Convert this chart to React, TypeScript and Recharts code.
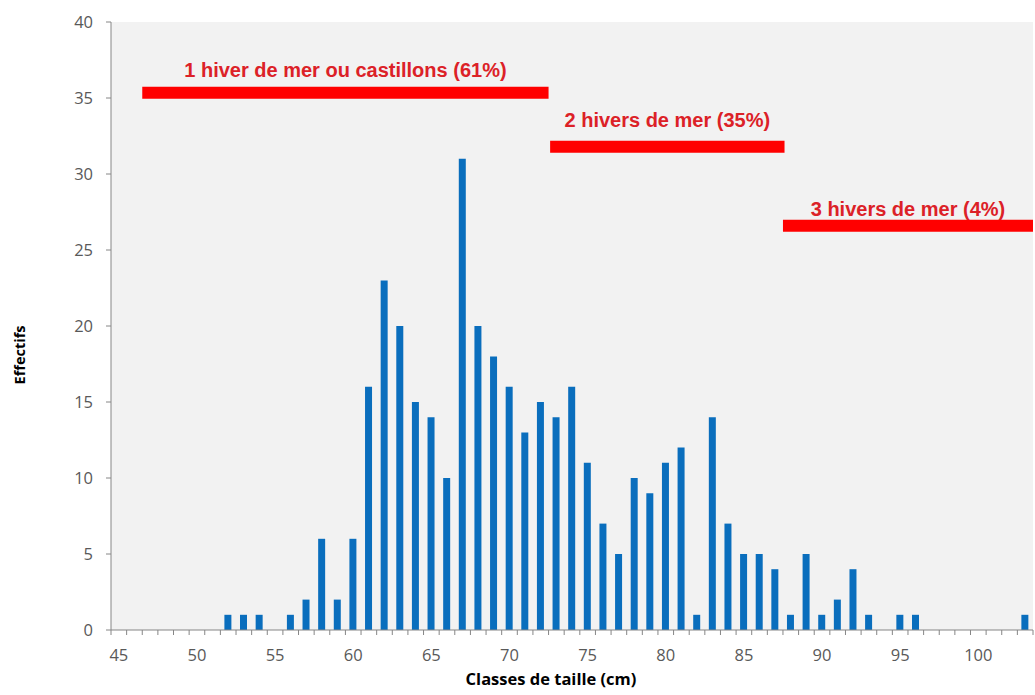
import { ComposedChart, Bar, XAxis, YAxis, CartesianGrid, ReferenceLine } from "recharts"

const classes = [
  45, 46, 47, 48, 49, 50, 51, 52, 53, 54, 55, 56, 57, 58, 59, 60, 61, 62, 63, 64,
  65, 66, 67, 68, 69, 70, 71, 72, 73, 74, 75, 76, 77, 78, 79, 80, 81, 82, 83, 84,
  85, 86, 87, 88, 89, 90, 91, 92, 93, 94, 95, 96, 97, 98, 99, 100, 101, 102, 103,
]
const effectifs = [
  0, 0, 0, 0, 0, 0, 0, 1, 1, 1, 0, 1, 2, 6, 2, 6, 16, 23, 20, 15,
  14, 10, 31, 20, 18, 16, 13, 15, 14, 16, 11, 7, 5, 10, 9, 11, 12, 1, 14, 7,
  5, 5, 4, 1, 5, 1, 2, 4, 1, 0, 1, 1, 0, 0, 0, 0, 0, 0, 1,
]
const xLabels = [45, 50, 55, 60, 65, 70, 75, 80, 85, 90, 95, 100]
const yTicks = [0, 5, 10, 15, 20, 25, 30, 35, 40]

const groupNames = ["1 hiver de mer ou castillons (61%)", "2 hivers de mer (35%)", "3 hivers de mer (4%)"]
const groupFrom = [46.5, 72.6, 87.5]
const groupTo = [72.5, 87.6, 103.5]
const groupLevel = [35.35, 31.8, 26.6]

const data = classes.map((c, i) => ({ classe: c, n: effectifs[i] }))
// tick marks sit between classes, labels on the classes
const boundaries = [...classes.map((c) => c - 0.5), classes[classes.length - 1] + 0.5]
const xTicks = [...boundaries, ...xLabels].sort((a, b) => a - b)

const axisGrey = "#868686"
const textGrey = "#595959"
const tickFont = "'Open Sans', sans-serif"
const redText = "#dc2127"

function XTick(props: any) {
  const { x, y, payload } = props
  const v = payload.value
  if (Number.isInteger(v)) {
    return (
      <text x={x} y={y + 31} textAnchor="middle" fill={textGrey} fontSize={16.5} fontFamily={tickFont}>
        {v}
      </text>
    )
  }
  return <line x1={x} x2={x} y1={y} y2={y + 5} stroke={axisGrey} />
}

const labelOffsets = [15.7, 19.5, 9.3]

export default function App() {
  return (
    <div style={{ position: "absolute", left: 0, top: 0 }}>
      <ComposedChart width={1035} height={695} data={data} margin={{ top: 22, right: 2, bottom: 0, left: 0 }}>
        <CartesianGrid fill="#f2f2f2" stroke="none" horizontal={false} vertical={false} />
        <XAxis
          dataKey="classe"
          type="number"
          domain={[44.5, 103.5]}
          ticks={xTicks}
          interval={0}
          tickSize={0}
          tickMargin={0}
          tickLine={false}
          tick={<XTick />}
          height={65}
          axisLine={{ stroke: axisGrey }}
          allowDataOverflow
          label={{
            value: "Classes de taille (cm)",
            position: "insideBottom",
            offset: 10,
            dx: -21,
            fill: "#000",
            fontSize: 16.5,
            fontWeight: 700,
            fontFamily: tickFont,
          }}
        />
        <YAxis
          type="number"
          domain={[0, 40]}
          ticks={yTicks}
          interval={0}
          width={111}
          tickSize={5}
          tickMargin={13}
          axisLine={{ stroke: axisGrey }}
          tickLine={{ stroke: axisGrey }}
          tick={{ fill: textGrey, fontSize: 16.5, fontFamily: tickFont }}
          label={{
            value: "Effectifs",
            angle: -90,
            position: "center",
            dx: -36,
            dy: 29,
            fill: "#000",
            fontSize: 14.5,
            fontWeight: 700,
            fontFamily: tickFont,
          }}
        />
        <Bar dataKey="n" fill="#0a6ebd" barSize={7} isAnimationActive={false} />
        {groupNames.map((name, i) => (
          <ReferenceLine
            key={name}
            segment={[
              { x: groupFrom[i], y: groupLevel[i] },
              { x: groupTo[i], y: groupLevel[i] },
            ]}
            stroke="#ff0000"
            strokeWidth={12}
            ifOverflow="visible"
            label={{
              value: name,
              position: "top",
              offset: labelOffsets[i],
              fill: redText,
              fontSize: 20,
              fontWeight: 700,
              fontFamily: "'Liberation Sans', Arial, sans-serif",
            }}
          />
        ))}
      </ComposedChart>
    </div>
  )
}
